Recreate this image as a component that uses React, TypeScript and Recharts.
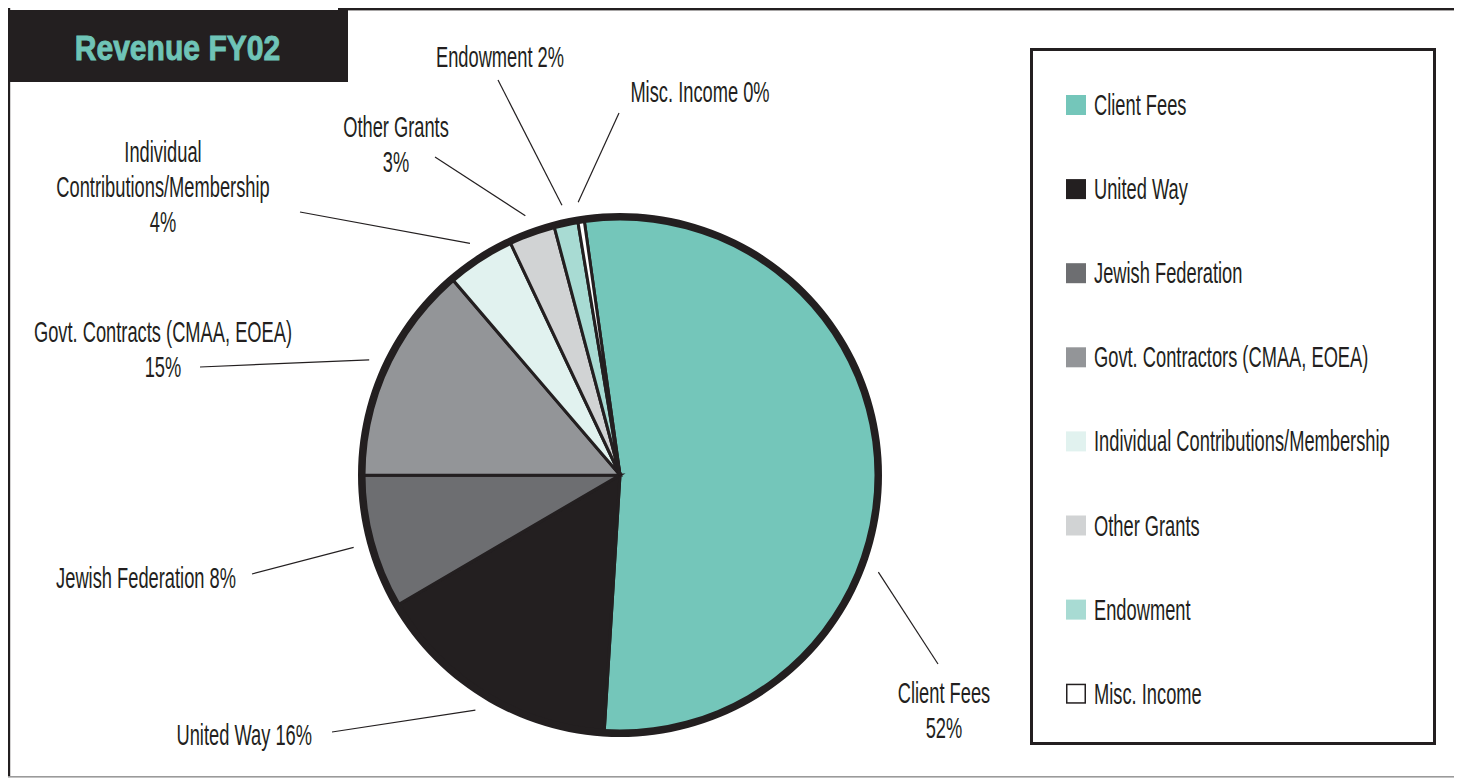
import React from 'react';
import { PieChart, Pie, Cell, Legend } from 'recharts';

// ---------- data ----------
const categories = [
  'Client Fees',
  'United Way',
  'Jewish Federation',
  'Govt. Contractors (CMAA, EOEA)',
  'Individual Contributions/Membership',
  'Other Grants',
  'Endowment',
  'Misc. Income',
];
const labelNames = [
  'Client Fees',
  'United Way',
  'Jewish Federation',
  'Govt. Contracts (CMAA, EOEA)',
  'Individual Contributions/Membership',
  'Other Grants',
  'Endowment',
  'Misc. Income',
];
const shares = [53.2, 15.6, 8.4, 13.75, 4.25, 2.9, 1.5, 0.4];
const pctLabels = ['52%', '16%', '8%', '15%', '4%', '3%', '2%', '0%'];
const title = 'Revenue FY02';

// ---------- styles ----------
const COLORS = ['#74c6ba', '#231f20', '#6d6e71', '#939598', '#e1f2ef', '#d1d3d4', '#a8dbd3', '#ffffff'];
const INK = '#231f20';
const FONT = "'Liberation Sans', Arial, sans-serif";
const SX = 0.61;
const FS = 30;

const W = 1454;
const H = 771;
const CX = 612;
const CY = 467;
const R = 258;
const LINE_GAP = 35;

type LabelLayout = {
  mode: 'inline' | 'below' | 'split';
  anchor: 'start' | 'middle' | 'end';
  tx: number;
  ty: number;
  lx: number;
  ly: number;
  angle?: number;
};

// label placement offsets relative to the pie centre
const LABEL_LAYOUT: LabelLayout[] = [
  { mode: 'below', anchor: 'middle', tx: 324, ty: 228, lx: 318, ly: 189, angle: -20.6 },
  { mode: 'inline', anchor: 'end', tx: -308, ty: 270, lx: -288, ly: 257 },
  { mode: 'inline', anchor: 'end', tx: -384, ty: 113, lx: -368, ly: 99 },
  { mode: 'below', anchor: 'middle', tx: -457, ty: -133, lx: -420, ly: -108 },
  { mode: 'split', anchor: 'middle', tx: -457, ty: -313, lx: -320, ly: -263 },
  { mode: 'below', anchor: 'middle', tx: -224, ty: -338, lx: -185, ly: -318 },
  { mode: 'inline', anchor: 'middle', tx: -120, ty: -408, lx: -122, ly: -395 },
  { mode: 'inline', anchor: 'middle', tx: 80, ty: -373, lx: -1, ly: -362 },
];

const data = categories.map((name, i) => ({ name, value: shares[i] }));
const ring = [{ name: 'ring', value: 1 }];

const Txt = ({ x, y, anchor = 'middle', children, size = FS, sx = SX, weight = 400, fill = INK, stroke }: any) => (
  <text
    transform={`translate(${x},${y}) scale(${sx},1)`}
    textAnchor={anchor}
    fontFamily={FONT}
    fontSize={size}
    fontWeight={weight}
    fill={fill}
    stroke={stroke}
    strokeWidth={stroke ? 0.9 : undefined}
  >
    {children}
  </text>
);

const renderLabel = (props: any) => {
  const { cx, cy, midAngle, outerRadius } = props;
  let idx = typeof props.index === 'number' ? props.index : categories.indexOf(props.name);
  if (idx < 0) idx = categories.indexOf(props.payload?.name);
  const L = LABEL_LAYOUT[idx];
  if (!L) return null;
  const a = ((L.angle ?? midAngle) * Math.PI) / 180;
  const r0 = outerRadius + 18;
  const x0 = cx + r0 * Math.cos(-a);
  const y0 = cy + r0 * Math.sin(-a);
  const name = labelNames[idx];
  const pct = pctLabels[idx];
  let lines: string[];
  if (L.mode === 'inline') lines = [`${name} ${pct}`];
  else if (L.mode === 'below') lines = [name, pct];
  else lines = [...name.split(' '), pct];
  return (
    <g>
      <line x1={x0} y1={y0} x2={cx + L.lx} y2={cy + L.ly} stroke={INK} strokeWidth={1.2} />
      {lines.map((t, i) => (
        <Txt key={i} x={cx + L.tx} y={cy + L.ty + i * LINE_GAP} anchor={L.anchor}>
          {t}
        </Txt>
      ))}
    </g>
  );
};

const LEG_W = 406;
const LEG_H = 697;
const LEG_STEP = 84.1;

const renderLegend = () => {
  return (
    <svg width={LEG_W} height={LEG_H} style={{ display: 'block' }}>
      <rect x={1.5} y={1.5} width={LEG_W - 3} height={LEG_H - 3} fill="#fff" stroke={INK} strokeWidth={3} />
      {categories.map((name, i) => {
        const top = 47 + i * LEG_STEP;
        const isWhite = COLORS[i] === '#ffffff';
        return (
          <g key={name}>
            {isWhite ? (
              <rect x={36.75} y={top + 0.75} width={18.5} height={18.5} fill="#fff" stroke={INK} strokeWidth={1.5} />
            ) : (
              <rect x={36} y={top} width={20} height={20} fill={COLORS[i]} />
            )}
            <Txt x={64} y={top + 20} anchor="start">
              {name}
            </Txt>
          </g>
        );
      })}
    </svg>
  );
};

export default function App() {
  return (
    <div style={{ position: 'relative', width: W, height: H, background: '#fff' }}>
      <svg width={W} height={H} style={{ position: 'absolute', left: 0, top: 0 }}>
        <rect x={330} y={0} width={W - 330} height={2.4} fill={INK} />
        <rect x={0} y={0} width={2.2} height={768} fill={INK} />
        <rect x={0} y={768} width={W} height={1.6} fill="#9a9a9a" />
        <rect x={0} y={2} width={340} height={72} fill={INK} />
        <Txt x={169.5} y={52} size={35} sx={0.86} weight={700} fill="#6fc4b7" stroke="#6fc4b7">
          {title}
        </Txt>
      </svg>
      <div style={{ position: 'absolute', left: 0, top: 0 }}>
        <PieChart width={W} height={H} margin={{ top: 0, right: 0, bottom: 0, left: 0 }}>
          <Pie
            data={data}
            dataKey="value"
            nameKey="name"
            cx={CX}
            cy={CY}
            outerRadius={R}
            startAngle={98}
            endAngle={-262}
            isAnimationActive={false}
            label={renderLabel}
            labelLine={false}
          >
            {data.map((d, i) => (
              <Cell key={d.name} fill={COLORS[i]} stroke={INK} strokeWidth={3} />
            ))}
          </Pie>
          <Pie
            data={ring}
            dataKey="value"
            cx={CX}
            cy={CY}
            innerRadius={R - 3.5}
            outerRadius={R + 4}
            startAngle={90}
            endAngle={-270}
            isAnimationActive={false}
            legendType="none"
            fill={INK}
            stroke="none"
          />
          <Legend
            layout="vertical"
            align="right"
            verticalAlign="middle"
            width={LEG_W}
            height={LEG_H}
            wrapperStyle={{ left: 1022, top: 40, width: LEG_W, height: LEG_H, right: 'auto', bottom: 'auto' }}
            content={renderLegend}
          />
        </PieChart>
      </div>
    </div>
  );
}
